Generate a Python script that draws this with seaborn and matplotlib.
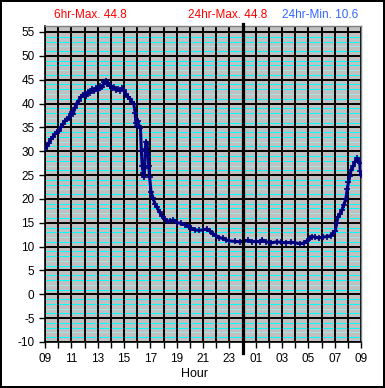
import numpy as np
import pandas as pd
import matplotlib
matplotlib.use("Agg")
import matplotlib.pyplot as plt
import seaborn as sns

# hours after 09:00, temperature readings
hours = [0.00, 0.15, 0.30, 0.45, 0.60, 0.75, 0.90, 1.05, 1.20, 1.35, 1.50, 1.65,
         1.80, 1.95, 2.05, 2.15, 2.25, 2.40, 2.55, 2.70, 2.85, 3.00, 3.15, 3.30,
         3.45, 3.60, 3.75, 3.90, 4.05, 4.20, 4.35, 4.50, 4.60, 4.70, 4.80, 4.95,
         5.10, 5.25, 5.40, 5.55, 5.70, 5.85, 6.00, 6.15, 6.30, 6.45, 6.60, 6.75,
         6.85, 6.90, 6.95, 7.05, 7.15, 7.25, 7.32, 7.38, 7.45, 7.52, 7.58, 7.62,
         7.68, 7.75, 7.82, 7.88, 7.95, 8.05, 8.20, 8.35, 8.50, 8.70, 8.90, 9.10,
         9.30, 9.50, 9.75, 10.0, 10.3, 10.6, 10.9, 11.1, 11.4, 11.7, 12.0, 12.3,
         12.5, 12.75, 13.0, 13.25, 13.5, 13.75, 14.0, 14.4, 14.8, 15.1, 15.4, 15.7,
         16.0, 16.3, 16.5, 16.8, 17.2, 17.6, 17.9, 18.3, 18.7, 19.0, 19.4, 19.7,
         19.9, 20.1, 20.3, 20.5, 20.8, 21.1, 21.4, 21.7, 21.9, 22.05, 22.15, 22.25,
         22.4, 22.55, 22.7, 22.85, 22.95, 23.05, 23.15, 23.25, 23.4, 23.55, 23.7, 23.8,
         23.9, 23.95, 24.0]
temps = [30.5, 31.0, 31.8, 32.5, 33.0, 33.6, 34.0, 34.3, 35.0, 35.6, 36.3, 36.8,
         37.0, 37.8, 38.3, 37.9, 39.0, 40.0, 40.6, 41.3, 41.8, 42.0, 41.6, 42.5,
         42.3, 43.0, 42.6, 43.3, 42.8, 43.6, 43.4, 44.5, 44.8, 44.0, 44.3, 43.7,
         43.2, 43.4, 42.8, 43.0, 42.7, 43.2, 42.9, 42.0, 41.4, 41.0, 40.3, 39.8,
         38.0, 36.0, 35.2, 36.3, 35.3, 34.8, 30.0, 27.0, 25.5, 24.6, 26.5, 30.5,
         32.0, 31.5, 29.5, 27.0, 24.5, 21.5, 20.2, 19.0, 18.3, 17.2, 16.4, 15.8,
         15.4, 15.3, 15.6, 15.0, 14.9, 14.6, 14.2, 13.8, 13.5, 13.4, 13.5, 13.7,
         13.3, 12.7, 12.3, 11.9, 11.7, 11.4, 11.2, 11.1, 11.0, 11.1, 11.3, 11.0,
         11.1, 11.0, 11.4, 11.0, 10.8, 11.0, 10.9, 10.8, 10.9, 10.8, 10.6, 10.8,
         11.2, 11.8, 12.1, 12.0, 11.8, 12.0, 12.1, 12.3, 12.8, 13.3, 15.0, 16.2,
         16.8, 17.6, 18.8, 20.0, 22.0, 23.5, 24.8, 26.0, 26.8, 27.8, 28.5, 28.2,
         27.5, 25.8, 25.0]

hour_labels = ["09", "11", "13", "15", "17", "19", "21", "23",
               "01", "03", "05", "07", "09"]
y_ticks = list(range(-10, 60, 5))

df = pd.DataFrame({"hour": hours, "temp": temps})

plt.rcParams["font.family"] = ["Liberation Sans", "DejaVu Sans"]

fig = plt.figure(figsize=(3.85, 3.88), dpi=100)
fig.patch.set_facecolor("white")
fig.patch.set_edgecolor("black")
fig.patch.set_linewidth(1.5)
ax = fig.add_axes([45 / 385, 1 - 342 / 388, 316 / 385, 316 / 388])
ax.set_facecolor("#C0C0C0")

# grid: cyan every unit (one faint per band), black every 5 units and every hour
for v in range(-10, 56):
    r = v % 5
    if r == 0:
        continue
    col = "#A8E2E2" if r == 2 else "#00FFFF"
    ax.axhline(v, color=col, lw=0.75, zorder=0.5)
for v in y_ticks:
    ax.axhline(v, color="black", lw=1.4, zorder=0.6)
for h in range(0, 25):
    ax.axvline(h, color="black", lw=1.4, zorder=0.6)

sns.lineplot(data=df, x="hour", y="temp", ax=ax, sort=False, estimator=None,
             color="#000080", lw=2.2, marker="+", markersize=4,
             markeredgewidth=1.2, markeredgecolor="#000080", zorder=3)

ax.axvline(15, ymin=-0.035, ymax=1.006, clip_on=False, color="black", lw=2.3, zorder=4)

ax.set_xlim(0, 24)
ax.set_ylim(-10, 56.25)
ax.set_xticks(range(0, 25))
ax.set_xticklabels([hour_labels[i // 2] if i % 2 == 0 else "" for i in range(25)])
ax.set_yticks(y_ticks)
ax.set_yticklabels([str(v) for v in y_ticks])
ax.tick_params(axis="both", colors="black", labelsize=8.5, direction="out",
               length=4, width=1)
ax.tick_params(axis="x", pad=4)
ax.set_xlabel("")
ax.set_ylabel("")

for side in ["left", "bottom"]:
    ax.spines[side].set_color("black")
    ax.spines[side].set_linewidth(1.2)
for side in ["top", "right"]:
    ax.spines[side].set_color("#808080")
    ax.spines[side].set_linewidth(1.0)

fig.text(194.5 / 385, 1 - 374 / 388, "Hour", ha="center", va="center", fontsize=9)
fig.text(54 / 385, 1 - 15 / 388, "6hr-Max. 44.8", ha="left", va="center",
         fontsize=8.5, color="#FF0000")
fig.text(228 / 385, 1 - 15 / 388, "24hr-Max. 44.8", ha="center", va="center",
         fontsize=8.5, color="#FF0000")
fig.text(358 / 385, 1 - 15 / 388, "24hr-Min. 10.6", ha="right", va="center",
         fontsize=8.5, color="#3366FF")

fig.savefig("out.png", dpi=100)
